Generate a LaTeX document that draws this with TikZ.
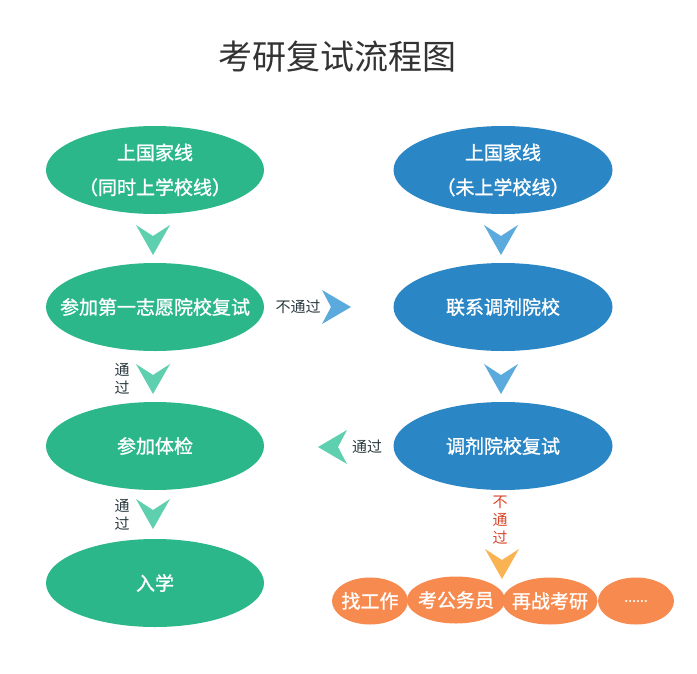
\documentclass[tikz,border=0pt]{standalone}
\usepackage{fontspec}
\setmainfont{Noto Sans CJK SC}
\newfontfamily\cjkb[FakeBold=1.2]{Noto Sans CJK SC}
\usetikzlibrary{shapes.geometric}
\begin{document}
\begin{tikzpicture}[x=1pt,y=-1pt,
  greenell/.style={ellipse,fill=cgreen,text=white,minimum width=218pt,minimum height=88pt,inner sep=0pt,font=\cjkb\fontsize{19}{33}\selectfont,align=center},
  blueell/.style={ellipse,fill=cblue,text=white,minimum width=219pt,minimum height=88pt,inner sep=0pt,font=\cjkb\fontsize{19}{33}\selectfont,align=center},
  orangeell/.style={ellipse,fill=corange,text=white,minimum height=47pt,inner sep=0pt,font=\cjkb\fontsize{19}{20}\selectfont},
  lbl/.style={text=ctext,font=\fontsize{15}{18}\selectfont,align=center,inner sep=0pt},
]
\definecolor{cgreen}{HTML}{2BB78A}
\definecolor{cblue}{HTML}{2A86C5}
\definecolor{corange}{HTML}{F78B4F}
\definecolor{clgreen}{HTML}{5ECFAF}
\definecolor{clblue}{HTML}{5AAADD}
\definecolor{clorange}{HTML}{F9B352}
\definecolor{ctext}{HTML}{2B3B40}
\definecolor{cred}{HTML}{D8462A}
\definecolor{ctitle}{HTML}{333333}
\useasboundingbox[fill=white] (0,0) rectangle (697,673);
\node[font=\fontsize{34}{36}\selectfont,text=ctitle] (title) at (337,57) {考研复试流程图};
% left column
\node[greenell] (l1) at (155,170) {\makebox[0pt]{\shortstack{上国家线\\[14pt]（同时上学校线）}}};
\node[greenell] (l2) at (155,307) {\makebox[0pt]{参加第一志愿院校复试}};
\node[greenell] (l3) at (155,446) {\makebox[0pt]{参加体检}};
\node[greenell] (l4) at (155,583) {\makebox[0pt]{入学}};
% right column
\node[blueell] (r1) at (503,170) {\makebox[0pt]{\shortstack{上国家线\\[14pt]（未上学校线）}}};
\node[blueell] (r2) at (503,307) {\makebox[0pt]{联系调剂院校}};
\node[blueell] (r3) at (503,446) {\makebox[0pt]{调剂院校复试}};
% bottom
\node[orangeell,minimum width=76pt] (o1) at (370,601) {\makebox[0pt]{找工作}};
\node[orangeell,minimum width=98pt] (o2) at (456,600) {\makebox[0pt]{考公务员}};
\node[orangeell,minimum width=95pt] (o3) at (550,601) {\makebox[0pt]{再战考研}};
\node[orangeell,minimum width=76pt] (o4) at (636,601) {\makebox[0pt]{\fontsize{14}{16}\selectfont ......}};
% chevrons
\newcommand\chevdown[3]{\fill[#3] ({#1-17},{#2-15}) -- (#1,{#2-4}) -- ({#1+17},{#2-15}) -- (#1,{#2+15}) -- cycle;}
\chevdown{153}{240}{clgreen}
\chevdown{153}{379}{clgreen}
\chevdown{153}{514}{clgreen}
\chevdown{501}{240}{clblue}
\chevdown{501}{379}{clblue}
\chevdown{502}{564}{clorange}
\fill[clblue] (322,290) -- (331,307) -- (322,324) -- (351,307) -- cycle;
\fill[clgreen] (347,430) -- (338,447) -- (347,464) -- (318,447) -- cycle;
% labels
\node[lbl] (t1) at (122,379) {通\\过};
\node[lbl] (t2) at (122,515) {通\\过};
\node[lbl] (t3) at (298,307) {不通过};
\node[lbl] (t4) at (367,447) {通过};
\node[lbl,text=cred] (t5) at (500,520) {不\\通\\过};
\end{tikzpicture}
\end{document}
